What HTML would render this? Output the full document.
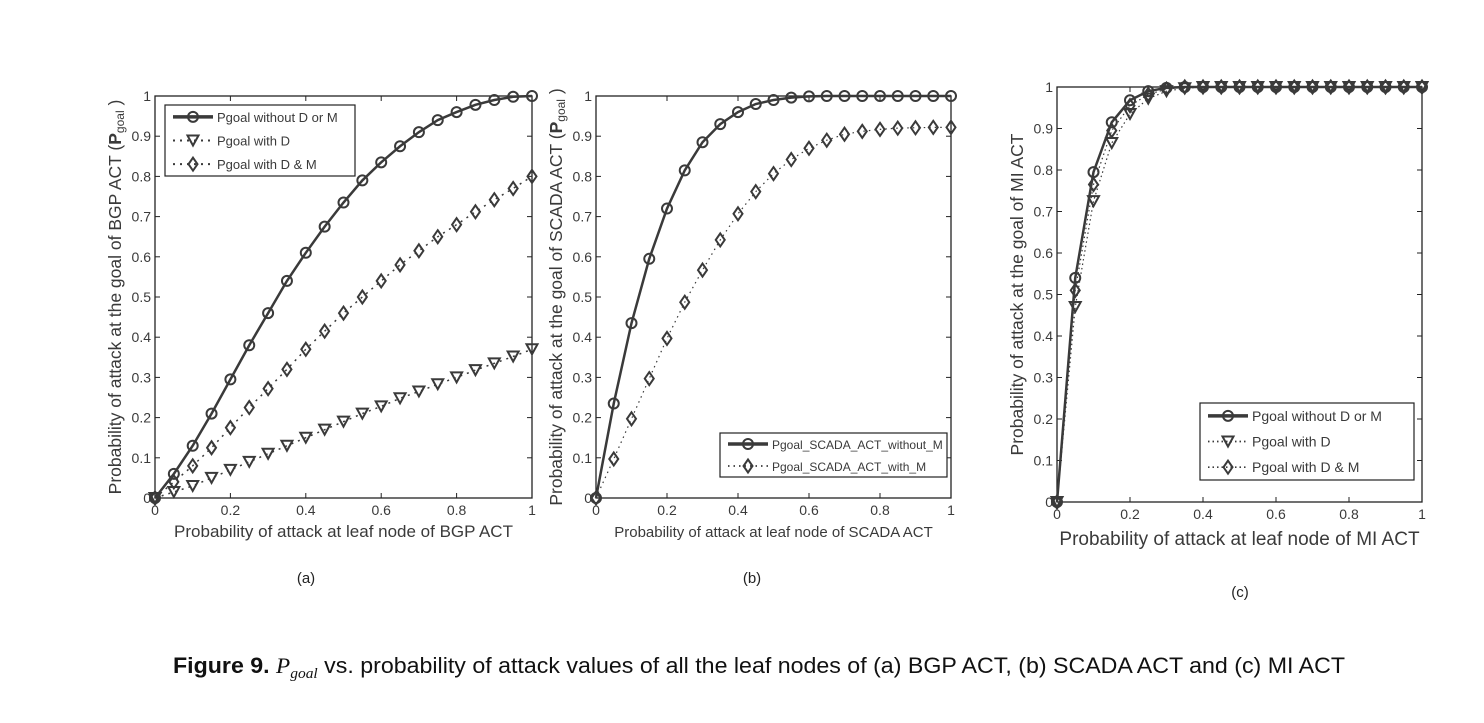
<!DOCTYPE html>
<html><head><meta charset="utf-8"><style>
body{margin:0;background:#fff;}
svg{display:block;font-family:"Liberation Sans",sans-serif;}
</style></head><body>
<svg id="fig" width="1484" height="723" viewBox="0 0 1484 723" xmlns="http://www.w3.org/2000/svg">
<text x="173" y="673" font-size="22.5" fill="#111" textLength="1172" lengthAdjust="spacingAndGlyphs"><tspan font-weight="bold">Figure 9.</tspan> <tspan font-family="Liberation Serif" font-style="italic">P</tspan><tspan font-family="Liberation Serif" font-style="italic" font-size="15" dy="5">goal</tspan><tspan dy="-5"> vs. probability of attack values of all the leaf nodes of (a) BGP ACT, (b) SCADA ACT and (c) MI ACT</tspan></text>
<text x="306" y="583" font-size="15" fill="#222" text-anchor="middle">(a)</text>
<text x="752" y="583" font-size="15" fill="#222" text-anchor="middle">(b)</text>
<text x="1240" y="597" font-size="15" fill="#222" text-anchor="middle">(c)</text>
</svg>
<script>
const xs = [0,0.05,0.1,0.15,0.2,0.25,0.3,0.35,0.4,0.45,0.5,0.55,0.6,0.65,0.7,0.75,0.8,0.85,0.9,0.95,1];
const yTicks = [0,0.1,0.2,0.3,0.4,0.5,0.6,0.7,0.8,0.9,1];
const yTickLabels = ["0","0.1","0.2","0.3","0.4","0.5","0.6","0.7","0.8","0.9","1"];
const xTicks = [0,0.2,0.4,0.6,0.8,1];
const xTickLabels = ["0","0.2","0.4","0.6","0.8","1"];
const aNone = [0,0.06,0.13,0.21,0.295,0.38,0.46,0.54,0.61,0.675,0.735,0.79,0.835,0.875,0.91,0.94,0.96,0.978,0.99,0.998,1];
const aD = [0,0.015,0.03,0.05,0.07,0.09,0.11,0.13,0.15,0.17,0.19,0.21,0.228,0.248,0.265,0.283,0.3,0.318,0.335,0.352,0.37];
const aDM = [0,0.04,0.08,0.125,0.175,0.225,0.272,0.32,0.37,0.415,0.46,0.5,0.54,0.58,0.615,0.65,0.68,0.712,0.742,0.77,0.8];
const bNone = [0,0.235,0.435,0.595,0.72,0.815,0.885,0.93,0.96,0.98,0.99,0.996,0.999,1,1,1,1,1,1,1,1];
const bM = [0,0.097,0.197,0.297,0.397,0.487,0.567,0.642,0.707,0.762,0.807,0.842,0.87,0.89,0.905,0.912,0.917,0.92,0.921,0.922,0.922];
const cNone = [0,0.54,0.795,0.915,0.968,0.99,0.998,1,1,1,1,1,1,1,1,1,1,1,1,1,1];
const cD = [0,0.47,0.725,0.865,0.935,0.972,0.99,0.997,1,1,1,1,1,1,1,1,1,1,1,1,1];
const cDM = [0,0.51,0.765,0.895,0.955,0.982,0.995,1,1,1,1,1,1,1,1,1,1,1,1,1,1];

const NS="http://www.w3.org/2000/svg";
const svg=document.getElementById('fig');
function mk(tag,attrs,parent){const e=document.createElementNS(NS,tag);for(const k in attrs)e.setAttribute(k,attrs[k]);(parent||svg).appendChild(e);return e;}
const C="#3a3a3a";

function marker(g,type,x,y){
  let e;
  if(type==='o'){e=mk('circle',{cx:x,cy:y,r:5,fill:'none',stroke:C,'stroke-width':2},g);}
  else if(type==='v'){e=mk('path',{d:`M${x-5.5},${y-5} L${x+5.5},${y-5} L${x},${y+5} Z`,fill:'none',stroke:C,'stroke-width':2},g);}
  else {e=mk('path',{d:`M${x},${y-6.5} L${x+4.5},${y} L${x},${y+6.5} L${x-4.5},${y} Z`,fill:'none',stroke:C,'stroke-width':2},g);}
  return e;
}

function panel(id,L,R,T,B,series,xlab,xlabSize,ylab,legend){
  const g=mk('g',{});
  
  
  const sx=v=>L+v*(R-L), sy=v=>B-v*(B-T);
  const box=mk('rect',{x:L,y:T,width:R-L,height:B-T,fill:'none',stroke:'#222','stroke-width':1.3},g);
  
  
  yTicks.forEach((t,i)=>{
    const y=sy(t);
    mk('line',{x1:L,y1:y,x2:L+5,y2:y,stroke:'#222'},g);
    mk('line',{x1:R,y1:y,x2:R-5,y2:y,stroke:'#222'},g);
    const tx=mk('text',{x:L-4,y:y+5,'font-size':14,fill:C,'text-anchor':'end'},g);
    tx.textContent=yTickLabels[i];
    
    
  });
  xTicks.forEach((t,i)=>{
    const x=sx(t);
    mk('line',{x1:x,y1:B,x2:x,y2:B-5,stroke:'#222'},g);
    mk('line',{x1:x,y1:T,x2:x,y2:T+5,stroke:'#222'},g);
    const tx=mk('text',{x:x,y:B+17,'font-size':14,fill:C,'text-anchor':'middle'},g);
    tx.textContent=xTickLabels[i];
    
    
  });
  const xl=mk('text',{x:(L+R)/2,y:B+(xlabSize>17?43:39),'font-size':xlabSize,fill:C,'text-anchor':'middle'},g);
  xl.textContent=xlab;
  
  
  const yl=mk('text',{x:0,y:0,'font-size':17.5,fill:C,'text-anchor':'middle',transform:`translate(${L-34},${(T+B)/2}) rotate(-90)`},g);
  yl.innerHTML=ylab;
  
  
  series.forEach(s=>{
    const sg=mk('g',{},g);
    
    
    const pts=xs.map((x,i)=>sx(x)+','+sy(s.data[i])).join(' ');
    const pl=mk('polyline',{points:pts,fill:'none',stroke:C,'stroke-width':s.w,'stroke-dasharray':s.dash||'none'},sg);
    
    
    xs.forEach((x,i)=>{
      const m=marker(sg,s.m,sx(x),sy(s.data[i]));
      
      
    });
  });
  const lg=mk('g',{},g);
  
  
  mk('rect',{x:legend.x,y:legend.y,width:legend.w,height:legend.h,fill:'#fff',stroke:'#222','stroke-width':1.2},lg);
  series.forEach((s,i)=>{
    const y=legend.y+legend.h/(series.length)*(i+0.5);
    const x0=legend.x+8,x1=legend.x+48;
    mk('line',{x1:x0,y1:y,x2:x1,y2:y,stroke:C,'stroke-width':s.w+(s.dash?0.5:1),'stroke-dasharray':s.dash||'none'},lg);
    marker(lg,s.m,(x0+x1)/2,y);
    const t=mk('text',{x:x1+4,y:y+5,'font-size':legend.fs,fill:C},lg);
    t.textContent=s.label;
    
    
  });
}

const ysub=(a)=>`Probability of attack at the goal of ${a} (<tspan font-weight="bold">P</tspan><tspan font-size="12" dy="3">goal</tspan><tspan dy="-3"> )</tspan>`;
panel('a',155,532,96,498,[
 {name:'without-d-or-m',data:aNone,m:'o',w:2.5,label:'Pgoal without D or M'},
 {name:'with-d',data:aD,m:'v',w:1.5,dash:'2,5',label:'Pgoal with D'},
 {name:'with-d-m',data:aDM,m:'d',w:1.5,dash:'2,5',label:'Pgoal with D & M'}],
 'Probability of attack at leaf node of BGP ACT',17,ysub('BGP ACT'),{x:165,y:105,w:190,h:71,fs:13});
panel('b',596,951,96,498,[
 {name:'scada-without-m',data:bNone,m:'o',w:2.5,label:'Pgoal_SCADA_ACT_without_M'},
 {name:'scada-with-m',data:bM,m:'d',w:1.2,dash:'1.5,4',label:'Pgoal_SCADA_ACT_with_M'}],
 'Probability of attack at leaf node of SCADA ACT',15,ysub('SCADA ACT'),{x:720,y:433,w:227,h:44,fs:12});
panel('c',1057,1422,87,502,[
 {name:'mi-without-d-or-m',data:cNone,m:'o',w:2.5,label:'Pgoal without D or M'},
 {name:'mi-with-d',data:cD,m:'v',w:1.2,dash:'1.5,3',label:'Pgoal with D'},
 {name:'mi-with-d-m',data:cDM,m:'d',w:1.2,dash:'1.5,3',label:'Pgoal with D & M'}],
 'Probability of attack at leaf node of MI ACT',19,'Probability of attack at the goal of MI ACT',{x:1200,y:403,w:214,h:77,fs:14});
</script>
</body></html>
